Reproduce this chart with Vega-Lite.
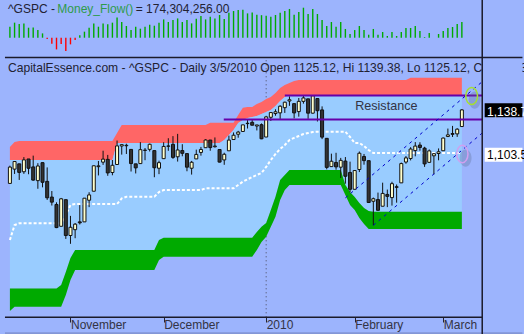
{
"$schema": "https://vega.github.io/schema/vega-lite/v6.json",
"width": 524, "height": 334,
"autosize": {"type": "none"},
"padding": 0,
"background": "#9CB4FD",
"config": {"view": {"stroke": null}, "font": "Liberation Sans"},
"datasets": {
"bars": [
{"i":0,"o":1078.68,"h":1093.17,"l":1078.68,"c":1092.02,"mf":122,"rt":1108.4,"rb":1097.8,"gt":993,"gb":974.5,"md":1032.5},
{"i":1,"o":1090.36,"h":1096.56,"l":1086.41,"c":1096.56,"mf":167,"rt":1112.5,"rb":1097.8,"gt":993,"gb":978,"md":1044.7},
{"i":2,"o":1094.67,"h":1094.67,"l":1081.53,"c":1087.68,"mf":152,"rt":1113.3,"rb":1097.8,"gt":993,"gb":978,"md":1046.1},
{"i":3,"o":1088.22,"h":1100.17,"l":1086.48,"c":1097.91,"mf":159,"rt":1113.3,"rb":1097.8,"gt":993,"gb":978,"md":1046.1},
{"i":4,"o":1098.64,"h":1098.64,"l":1086.16,"c":1091.06,"mf":111,"rt":1113.3,"rb":1097.8,"gt":993,"gb":978,"md":1046.1},
{"i":5,"o":1092.16,"h":1101.36,"l":1080.89,"c":1081.40,"mf":114,"rt":1113.3,"rb":1097.8,"gt":993,"gb":978,"md":1046.1},
{"i":6,"o":1080.96,"h":1095.21,"l":1074.31,"c":1092.91,"mf":85,"rt":1113.3,"rb":1097.8,"gt":993,"gb":978,"md":1046.1},
{"i":7,"o":1095.62,"h":1095.83,"l":1075.49,"c":1079.60,"mf":48,"rt":1113.3,"rb":1097.8,"gt":993,"gb":978,"md":1046.1},
{"i":8,"o":1080.36,"h":1091.75,"l":1065.23,"c":1066.95,"mf":-14,"rt":1113.3,"rb":1097.8,"gt":993,"gb":978,"md":1046.1},
{"i":9,"o":1067.54,"h":1072.48,"l":1060.62,"c":1063.41,"mf":-67,"rt":1113.3,"rb":1097.8,"gt":993,"gb":978,"md":1046.1},
{"i":10,"o":1061.51,"h":1063.26,"l":1042.19,"c":1042.63,"mf":-130,"rt":1113.3,"rb":1097.8,"gt":993,"gb":978,"md":1046.1},
{"i":11,"o":1043.69,"h":1066.83,"l":1043.69,"c":1066.11,"mf":-70,"rt":1113.3,"rb":1097.8,"gt":995.8,"gb":978,"md":1046.1},
{"i":12,"o":1065.41,"h":1065.41,"l":1033.38,"c":1036.19,"mf":-148,"rt":1113.3,"rb":1097.8,"gt":1006.4,"gb":987.6,"md":1052.9},
{"i":13,"o":1036.18,"h":1052.18,"l":1029.38,"c":1042.88,"mf":-74,"rt":1113.3,"rb":1097.8,"gt":1017.8,"gb":999.8,"md":1061.1},
{"i":14,"o":1040.92,"h":1046.36,"l":1033.94,"c":1045.41,"mf":-26,"rt":1113.3,"rb":1097.8,"gt":1024.3,"gb":1008,"md":1061.9},
{"i":15,"o":1047.30,"h":1061.00,"l":1045.15,"c":1046.50,"mf":26,"rt":1113.3,"rb":1097.8,"gt":1024.3,"gb":1008,"md":1061.9},
{"i":16,"o":1047.30,"h":1066.65,"l":1047.30,"c":1066.63,"mf":67,"rt":1113.3,"rb":1097.8,"gt":1024.3,"gb":1008,"md":1061.9},
{"i":17,"o":1064.95,"h":1071.48,"l":1059.32,"c":1069.30,"mf":111,"rt":1113.3,"rb":1097.8,"gt":1024.3,"gb":1008,"md":1061.9},
{"i":18,"o":1072.31,"h":1093.19,"l":1072.31,"c":1093.08,"mf":159,"rt":1113.3,"rb":1097.8,"gt":1024.3,"gb":1008,"md":1061.9},
{"i":19,"o":1092.36,"h":1097.00,"l":1085.20,"c":1093.01,"mf":122,"rt":1113.3,"rb":1097.8,"gt":1024.3,"gb":1008,"md":1061.9},
{"i":20,"o":1096.04,"h":1105.37,"l":1093.81,"c":1098.51,"mf":159,"rt":1113.3,"rb":1097.8,"gt":1024.3,"gb":1008,"md":1061.9},
{"i":21,"o":1098.31,"h":1101.97,"l":1084.90,"c":1087.24,"mf":148,"rt":1113.3,"rb":1097.8,"gt":1024.3,"gb":1008,"md":1061.9},
{"i":22,"o":1087.59,"h":1097.79,"l":1085.33,"c":1093.48,"mf":167,"rt":1113.3,"rb":1097.8,"gt":1024.3,"gb":1008,"md":1061.9},
{"i":23,"o":1094.13,"h":1113.69,"l":1094.13,"c":1109.30,"mf":225,"rt":1119.8,"rb":1111.7,"gt":1024.3,"gb":1008,"md":1061.9},
{"i":24,"o":1109.22,"h":1110.52,"l":1102.19,"c":1110.32,"mf":174,"rt":1126.4,"rb":1111.7,"gt":1024.3,"gb":1008,"md":1066.5},
{"i":25,"o":1109.44,"h":1111.10,"l":1102.70,"c":1109.80,"mf":130,"rt":1126.4,"rb":1111.7,"gt":1024.3,"gb":1008,"md":1067.8},
{"i":26,"o":1106.44,"h":1106.44,"l":1088.40,"c":1094.90,"mf":85,"rt":1126.4,"rb":1111.7,"gt":1024.3,"gb":1008,"md":1067.8},
{"i":27,"o":1094.66,"h":1094.66,"l":1086.81,"c":1091.38,"mf":122,"rt":1126.4,"rb":1111.7,"gt":1024.3,"gb":1008,"md":1067.8},
{"i":28,"o":1094.86,"h":1112.38,"l":1094.86,"c":1106.24,"mf":100,"rt":1126.4,"rb":1111.7,"gt":1024.3,"gb":1008,"md":1067.8},
{"i":29,"o":1105.83,"h":1107.56,"l":1097.63,"c":1105.65,"mf":122,"rt":1126.4,"rb":1111.7,"gt":1024.3,"gb":1008,"md":1067.8},
{"i":30,"o":1106.49,"h":1111.18,"l":1104.75,"c":1110.63,"mf":144,"rt":1126.4,"rb":1111.7,"gt":1024.3,"gb":1008,"md":1067.8},
{"i":31,"o":1105.47,"h":1105.47,"l":1083.74,"c":1091.49,"mf":133,"rt":1126.4,"rb":1111.7,"gt":1024.3,"gb":1008,"md":1067.8},
{"i":32,"o":1091.07,"h":1097.24,"l":1086.25,"c":1095.63,"mf":167,"rt":1126.4,"rb":1111.7,"gt":1032.5,"gb":1016.1,"md":1071.7},
{"i":33,"o":1098.89,"h":1112.28,"l":1098.89,"c":1108.86,"mf":203,"rt":1126.4,"rb":1111.7,"gt":1034.4,"gb":1018.9,"md":1073.3},
{"i":34,"o":1109.03,"h":1115.58,"l":1105.29,"c":1109.24,"mf":174,"rt":1126.4,"rb":1111.7,"gt":1034.4,"gb":1018.9,"md":1073.3},
{"i":35,"o":1110.59,"h":1117.28,"l":1098.74,"c":1099.92,"mf":196,"rt":1126.4,"rb":1111.7,"gt":1034.4,"gb":1018.9,"md":1073.3},
{"i":36,"o":1100.43,"h":1119.13,"l":1096.52,"c":1105.98,"mf":214,"rt":1126.4,"rb":1111.7,"gt":1034.4,"gb":1018.9,"md":1073.3},
{"i":37,"o":1105.52,"h":1110.72,"l":1100.83,"c":1103.25,"mf":174,"rt":1126.4,"rb":1111.7,"gt":1034.4,"gb":1018.9,"md":1073.3},
{"i":38,"o":1103.04,"h":1103.04,"l":1088.61,"c":1091.94,"mf":196,"rt":1126.4,"rb":1111.7,"gt":1034.4,"gb":1018.9,"md":1073.3},
{"i":39,"o":1091.07,"h":1097.04,"l":1085.89,"c":1095.95,"mf":159,"rt":1126.4,"rb":1111.7,"gt":1034.4,"gb":1018.9,"md":1073.3},
{"i":40,"o":1098.69,"h":1106.25,"l":1098.69,"c":1102.35,"mf":211,"rt":1126.4,"rb":1111.7,"gt":1034.4,"gb":1018.9,"md":1073.3},
{"i":41,"o":1103.96,"h":1108.50,"l":1101.34,"c":1106.41,"mf":241,"rt":1126.4,"rb":1111.7,"gt":1034.4,"gb":1018.9,"md":1073.3},
{"i":42,"o":1107.84,"h":1114.76,"l":1107.84,"c":1114.11,"mf":203,"rt":1126.4,"rb":1111.7,"gt":1034.4,"gb":1018.9,"md":1074.7},
{"i":43,"o":1114.11,"h":1114.11,"l":1105.35,"c":1107.93,"mf":233,"rt":1128.2,"rb":1111.7,"gt":1034.4,"gb":1018.9,"md":1074.7},
{"i":44,"o":1108.61,"h":1116.21,"l":1107.96,"c":1109.18,"mf":214,"rt":1128.2,"rb":1111.7,"gt":1034.4,"gb":1018.9,"md":1074.7},
{"i":45,"o":1106.36,"h":1106.36,"l":1095.88,"c":1096.08,"mf":252,"rt":1128.2,"rb":1111.7,"gt":1034.4,"gb":1018.9,"md":1074.7},
{"i":46,"o":1097.86,"h":1103.74,"l":1093.88,"c":1102.47,"mf":208,"rt":1128.2,"rb":1114.1,"gt":1034.4,"gb":1018.9,"md":1074.7},
{"i":47,"o":1105.31,"h":1117.68,"l":1105.31,"c":1114.05,"mf":278,"rt":1128.2,"rb":1118.2,"gt":1034.4,"gb":1018.9,"md":1074.7},
{"i":48,"o":1114.51,"h":1120.27,"l":1114.51,"c":1118.02,"mf":296,"rt":1128.2,"rb":1122.3,"gt":1034.4,"gb":1018.9,"md":1074.7},
{"i":49,"o":1118.84,"h":1121.58,"l":1116.00,"c":1120.59,"mf":307,"rt":1134.5,"rb":1128.0,"gt":1034.4,"gb":1018.9,"md":1077.4},
{"i":50,"o":1121.08,"h":1126.48,"l":1121.08,"c":1126.48,"mf":311,"rt":1140.5,"rb":1130.4,"gt":1034.4,"gb":1018.9,"md":1080.1},
{"i":51,"o":1127.53,"h":1130.38,"l":1123.51,"c":1127.78,"mf":270,"rt":1141.1,"rb":1132.1,"gt":1034.4,"gb":1018.9,"md":1082.0},
{"i":52,"o":1128.55,"h":1130.38,"l":1126.08,"c":1126.20,"mf":281,"rt":1141.1,"rb":1132.9,"gt":1034.4,"gb":1018.9,"md":1083.9},
{"i":53,"o":1125.53,"h":1126.42,"l":1121.94,"c":1126.42,"mf":255,"rt":1143.5,"rb":1133.7,"gt":1039.0,"gb":1024.3,"md":1085.6},
{"i":54,"o":1126.60,"h":1127.64,"l":1114.81,"c":1115.10,"mf":250,"rt":1145.1,"rb":1135.4,"gt":1043.3,"gb":1030.9,"md":1087.2},
{"i":55,"o":1116.56,"h":1133.87,"l":1116.56,"c":1132.99,"mf":244,"rt":1147.6,"rb":1137.0,"gt":1046.4,"gb":1035.2,"md":1092.1},
{"i":56,"o":1132.66,"h":1136.63,"l":1129.66,"c":1136.52,"mf":233,"rt":1149.2,"rb":1138.6,"gt":1057.0,"gb":1043.3,"md":1097.8},
{"i":57,"o":1135.71,"h":1139.19,"l":1133.95,"c":1137.14,"mf":252,"rt":1152.5,"rb":1141.9,"gt":1067.8,"gb":1051.5,"md":1102.7},
{"i":58,"o":1136.27,"h":1142.46,"l":1131.32,"c":1141.69,"mf":278,"rt":1156.6,"rb":1146.0,"gt":1081.5,"gb":1065.1,"md":1106.8},
{"i":59,"o":1140.52,"h":1145.39,"l":1136.22,"c":1144.98,"mf":296,"rt":1159.0,"rb":1149.2,"gt":1085.6,"gb":1073.3,"md":1110.0},
{"i":60,"o":1145.96,"h":1149.74,"l":1142.02,"c":1146.98,"mf":319,"rt":1160.7,"rb":1150.45,"gt":1089.6,"gb":1077.4,"md":1114.1},
{"i":61,"o":1143.81,"h":1143.81,"l":1131.77,"c":1136.22,"mf":255,"rt":1162.3,"rb":1150.45,"gt":1089.6,"gb":1077.4,"md":1115.8},
{"i":62,"o":1137.31,"h":1148.40,"l":1133.18,"c":1145.68,"mf":285,"rt":1163.1,"rb":1150.45,"gt":1089.6,"gb":1077.4,"md":1117.4},
{"i":63,"o":1145.68,"h":1150.41,"l":1143.80,"c":1148.46,"mf":333,"rt":1163.1,"rb":1150.45,"gt":1089.6,"gb":1077.4,"md":1119.0},
{"i":64,"o":1147.72,"h":1147.77,"l":1131.39,"c":1136.03,"mf":263,"rt":1163.1,"rb":1150.45,"gt":1089.6,"gb":1077.4,"md":1119.8},
{"i":65,"o":1136.03,"h":1150.45,"l":1135.77,"c":1150.23,"mf":319,"rt":1163.1,"rb":1150.45,"gt":1089.6,"gb":1077.4,"md":1120.6},
{"i":66,"o":1147.95,"h":1147.95,"l":1129.25,"c":1138.04,"mf":263,"rt":1163.1,"rb":1150.45,"gt":1089.6,"gb":1077.4,"md":1120.9},
{"i":67,"o":1138.68,"h":1141.58,"l":1114.84,"c":1116.48,"mf":196,"rt":1163.1,"rb":1150.45,"gt":1089.6,"gb":1077.4,"md":1120.9},
{"i":68,"o":1115.49,"h":1115.49,"l":1090.18,"c":1091.76,"mf":130,"rt":1163.1,"rb":1150.45,"gt":1089.6,"gb":1077.4,"md":1120.9},
{"i":69,"o":1092.40,"h":1102.97,"l":1092.40,"c":1096.78,"mf":174,"rt":1163.1,"rb":1150.45,"gt":1089.6,"gb":1077.4,"md":1120.9},
{"i":70,"o":1095.80,"h":1103.69,"l":1089.86,"c":1092.17,"mf":122,"rt":1163.1,"rb":1150.45,"gt":1089.6,"gb":1077.4,"md":1120.9},
{"i":71,"o":1091.94,"h":1099.51,"l":1083.11,"c":1097.50,"mf":174,"rt":1163.1,"rb":1150.45,"gt":1089.6,"gb":1077.4,"md":1120.9},
{"i":72,"o":1096.93,"h":1100.22,"l":1078.46,"c":1084.53,"mf":97,"rt":1163.1,"rb":1150.45,"gt":1077.4,"gb":1069.2,"md":1120.9},
{"i":73,"o":1087.61,"h":1096.45,"l":1071.59,"c":1073.87,"mf":41,"rt":1163.1,"rb":1150.45,"gt":1071.7,"gb":1061.1,"md":1116.6},
{"i":74,"o":1073.89,"h":1089.38,"l":1073.89,"c":1089.19,"mf":85,"rt":1163.1,"rb":1150.45,"gt":1067.6,"gb":1057.0,"md":1111.7},
{"i":75,"o":1090.05,"h":1104.73,"l":1087.96,"c":1103.32,"mf":130,"rt":1163.1,"rb":1150.45,"gt":1062.7,"gb":1050.4,"md":1111.7},
{"i":76,"o":1100.67,"h":1102.72,"l":1093.97,"c":1097.28,"mf":85,"rt":1163.1,"rb":1150.45,"gt":1058.6,"gb":1045.6,"md":1109.2},
{"i":77,"o":1097.25,"h":1097.25,"l":1062.78,"c":1063.11,"mf":33,"rt":1163.1,"rb":1150.45,"gt":1056.2,"gb":1041.4,"md":1105.9},
{"i":78,"o":1064.12,"h":1067.13,"l":1044.50,"c":1066.19,"mf":97,"rt":1163.1,"rb":1150.45,"gt":1055.6,"gb":1041.4,"md":1103.5},
{"i":79,"o":1065.51,"h":1071.20,"l":1056.51,"c":1056.74,"mf":33,"rt":1163.1,"rb":1150.45,"gt":1055.6,"gb":1041.4,"md":1103.5},
{"i":80,"o":1060.06,"h":1079.28,"l":1060.06,"c":1070.52,"mf":63,"rt":1163.1,"rb":1150.45,"gt":1055.6,"gb":1041.4,"md":1103.5},
{"i":81,"o":1069.68,"h":1073.67,"l":1059.34,"c":1068.13,"mf":19,"rt":1163.1,"rb":1150.45,"gt":1055.6,"gb":1041.4,"md":1103.5},
{"i":82,"o":1067.10,"h":1080.04,"l":1060.59,"c":1078.47,"mf":63,"rt":1163.1,"rb":1150.45,"gt":1055.6,"gb":1041.4,"md":1103.5},
{"i":83,"o":1075.95,"h":1077.81,"l":1062.97,"c":1075.51,"mf":19,"rt":1163.1,"rb":1150.45,"gt":1055.6,"gb":1041.4,"md":1103.5},
{"i":84,"o":1079.13,"h":1095.67,"l":1079.13,"c":1094.87,"mf":63,"rt":1163.1,"rb":1150.45,"gt":1055.6,"gb":1041.4,"md":1103.5},
{"i":85,"o":1096.14,"h":1101.03,"l":1094.72,"c":1099.51,"mf":108,"rt":1163.1,"rb":1150.45,"gt":1055.6,"gb":1041.4,"md":1103.5},
{"i":86,"o":1099.03,"h":1108.24,"l":1097.48,"c":1106.75,"mf":108,"rt":1165.0,"rb":1150.45,"gt":1055.6,"gb":1041.4,"md":1103.5},
{"i":87,"o":1105.49,"h":1112.42,"l":1100.80,"c":1109.17,"mf":130,"rt":1165.0,"rb":1150.45,"gt":1055.6,"gb":1041.4,"md":1103.5},
{"i":88,"o":1110.00,"h":1112.29,"l":1105.38,"c":1108.01,"mf":74,"rt":1165.0,"rb":1150.45,"gt":1055.6,"gb":1041.4,"md":1103.5},
{"i":89,"o":1107.49,"h":1108.58,"l":1092.18,"c":1094.60,"mf":8,"rt":1165.0,"rb":1150.45,"gt":1055.6,"gb":1041.4,"md":1103.5},
{"i":90,"o":1095.89,"h":1106.42,"l":1095.50,"c":1105.24,"mf":52,"rt":1165.0,"rb":1150.45,"gt":1055.6,"gb":1041.4,"md":1103.5},
{"i":91,"o":1101.24,"h":1103.50,"l":1086.02,"c":1102.94,"mf":0,"rt":1165.0,"rb":1150.45,"gt":1055.6,"gb":1041.4,"md":1103.5},
{"i":92,"o":1103.10,"h":1107.24,"l":1097.56,"c":1104.49,"mf":41,"rt":1165.0,"rb":1150.45,"gt":1055.6,"gb":1041.4,"md":1103.5},
{"i":93,"o":1105.36,"h":1116.11,"l":1105.36,"c":1115.71,"mf":74,"rt":1165.0,"rb":1150.45,"gt":1055.6,"gb":1041.4,"md":1103.5},
{"i":94,"o":1117.01,"h":1123.46,"l":1116.51,"c":1118.31,"mf":108,"rt":1165.0,"rb":1150.45,"gt":1055.6,"gb":1041.4,"md":1103.5},
{"i":95,"o":1119.36,"h":1125.64,"l":1116.58,"c":1118.79,"mf":119,"rt":1165.0,"rb":1150.45,"gt":1055.6,"gb":1041.4,"md":1103.5},
{"i":96,"o":1119.12,"h":1123.73,"l":1116.66,"c":1122.97,"mf":152,"rt":1165.0,"rb":1150.45,"gt":1055.6,"gb":1041.4,"md":1103.5},
{"i":97,"o":1125.12,"h":1139.38,"l":1125.12,"c":1138.70,"mf":174.3,"rt":1165.0,"rb":1150.45,"gt":1055.6,"gb":1041.4,"md":1103.5}
]
},
"encoding": {
  "x": {"field": "i", "type": "quantitative",
        "scale": {"domain": [-1.0526, 109.263], "nice": false, "zero": false},
        "axis": {"values": [13, 33, 55, 74, 93],
                 "labelExpr": "datum.value == 13 ? 'November' : datum.value == 33 ? 'December' : datum.value == 55 ? '2010' : datum.value == 74 ? 'February' : 'March'",
                 "offset": -17, "domain": false, "grid": false, "tickSize": 5, "tickColor": "#222233", "tickWidth": 1,
                 "labelAlign": "left", "labelBaseline": "alphabetic", "labelPadding": 6.5, "labelDx": 3,
                 "labelFont": "Liberation Sans", "labelFontSize": 12, "labelColor": "#333344",
                 "labelOverlap": false, "labelFlush": false, "title": null}}
},
"layer": [
{"layer": [
  {"data": {"values": [{"i": 55, "p": 969.4, "p2": 1181}]},
   "mark": {"type": "rule", "color": "#4a4a5a", "strokeDash": [1, 3], "strokeWidth": 1},
   "encoding": {"y": {"field": "p", "type": "quantitative", "scale": {"domain": [955.76, 1228.41], "nice": false, "zero": false}, "axis": null}, "y2": {"field": "p2"}}},
  {"data": {"name": "bars"}, "mark": {"type": "area", "color": "#FF6666"},
   "encoding": {"y": {"field": "rt", "type": "quantitative", "scale": {"domain": [955.76, 1228.41], "nice": false, "zero": false}, "axis": null}, "y2": {"field": "rb"}}},
  {"data": {"name": "bars"}, "mark": {"type": "area", "color": "#99CCFF"},
   "encoding": {"y": {"field": "rb", "type": "quantitative", "scale": {"domain": [955.76, 1228.41], "nice": false, "zero": false}, "axis": null}, "y2": {"field": "gt"}}},
  {"data": {"name": "bars"}, "mark": {"type": "area", "color": "#00AA00"},
   "encoding": {"y": {"field": "gt", "type": "quantitative", "scale": {"domain": [955.76, 1228.41], "nice": false, "zero": false}, "axis": null}, "y2": {"field": "gb"}}},
  {"data": {"name": "bars"}, "mark": {"type": "line", "color": "#FFFFFF", "strokeWidth": 2, "strokeDash": [3, 2]},
   "encoding": {"y": {"field": "md", "type": "quantitative", "scale": {"domain": [955.76, 1228.41], "nice": false, "zero": false}, "axis": null}}},
  {"data": {"name": "bars"}, "mark": {"type": "rule", "color": "#111111", "strokeWidth": 1},
   "encoding": {"y": {"field": "l", "type": "quantitative", "scale": {"domain": [955.76, 1228.41], "nice": false, "zero": false}, "axis": null}, "y2": {"field": "h"}}},
  {"data": {"name": "bars"}, "mark": {"type": "bar", "size": 3, "stroke": "#111111", "strokeWidth": 1},
   "encoding": {"y": {"field": "o", "type": "quantitative", "scale": {"domain": [955.76, 1228.41], "nice": false, "zero": false}, "axis": null}, "y2": {"field": "c"},
                "color": {"condition": {"test": "datum.c >= datum.o", "value": "#FFFFCC"}, "value": "#333333"}}},
  {"data": {"values": [{"i": 45.9, "i2": 101.37, "p": 1130.8}, {"i": 59, "i2": 101.37, "p": 1150.45}]},
   "mark": {"type": "rule", "color": "#6600AA", "strokeWidth": 2},
   "encoding": {"x2": {"field": "i2"}, "y": {"field": "p", "type": "quantitative", "scale": {"domain": [955.76, 1228.41], "nice": false, "zero": false}, "axis": null}}},
  {"data": {"values": [{"line": "upper", "i": 72, "p": 1066.9}, {"line": "upper", "i": 101.3, "p": 1161.5}, {"line": "lower", "i": 78, "p": 1044.5}, {"line": "lower", "i": 101.3, "p": 1119.6}]},
   "mark": {"type": "line", "color": "#0000CC", "strokeWidth": 1, "strokeDash": [3, 4]},
   "encoding": {"detail": {"field": "line"}, "y": {"field": "p", "type": "quantitative", "scale": {"domain": [955.76, 1228.41], "nice": false, "zero": false}, "axis": null}}},
  {"data": {"values": [{"i": 99.75, "p": 1146.7}, {"i": 97.8, "p": 1099.4}]},
   "mark": {"type": "point", "shape": "M-0.69,0A0.69,1,0,1,1,0.69,0A0.69,1,0,1,1,-0.69,0Z", "size": 300, "filled": true, "color": "#5a6a90", "opacity": 0.3},
   "encoding": {"y": {"field": "p", "type": "quantitative", "scale": {"domain": [955.76, 1228.41], "nice": false, "zero": false}, "axis": null}}},
  {"data": {"values": [{"i": 99.1, "p": 1150.0}]},
   "mark": {"type": "point", "shape": "M-0.69,0A0.69,1,0,1,1,0.69,0A0.69,1,0,1,1,-0.69,0Z", "size": 289, "filled": false, "color": "#A6E030", "strokeWidth": 1.5, "opacity": 1},
   "encoding": {"y": {"field": "p", "type": "quantitative", "scale": {"domain": [955.76, 1228.41], "nice": false, "zero": false}, "axis": null}}},
  {"data": {"values": [{"i": 97.1, "p": 1102.7}]},
   "mark": {"type": "point", "shape": "M-0.65,0A0.65,1,0,1,1,0.65,0A0.65,1,0,1,1,-0.65,0Z", "size": 300, "filled": false, "color": "#D0A0F0", "strokeWidth": 1.5, "opacity": 1},
   "encoding": {"y": {"field": "p", "type": "quantitative", "scale": {"domain": [955.76, 1228.41], "nice": false, "zero": false}, "axis": null}}},
  {"data": {"values": [{"i": -0.42, "p": 1169.4, "t": "CapitalEssence.com - ^GSPC - Daily 3/5/2010 Open 1125.12, Hi 1139.38, Lo 1125.12, Close 1138.70"}]},
   "mark": {"type": "text", "align": "left", "baseline": "alphabetic", "font": "Liberation Sans", "fontSize": 12.1, "color": "#222233"},
   "encoding": {"text": {"field": "t"}, "y": {"field": "p", "type": "quantitative", "scale": {"domain": [955.76, 1228.41], "nice": false, "zero": false}, "axis": null}}},
  {"data": {"values": [{"i": 74.1, "p": 1138.6, "t": "Resistance"}]},
   "mark": {"type": "text", "align": "left", "baseline": "alphabetic", "font": "Liberation Sans", "fontSize": 12.6, "color": "#333344"},
   "encoding": {"text": {"field": "t"}, "y": {"field": "p", "type": "quantitative", "scale": {"domain": [955.76, 1228.41], "nice": false, "zero": false}, "axis": null}}},
  {"data": {"values": [{"i": 101.37, "i2": 110, "p": 955.76, "p2": 1228.41}]},
   "mark": {"type": "rect", "color": "#9CB4FD"},
   "encoding": {"x2": {"field": "i2"}, "y": {"field": "p", "type": "quantitative", "scale": {"domain": [955.76, 1228.41], "nice": false, "zero": false}, "axis": null}, "y2": {"field": "p2"}}},
  {"data": {"values": [{"i": -1.06, "i2": 110, "p": 1181.5}, {"i": -1.06, "i2": 101.37, "p": 969.4}]},
   "mark": {"type": "rule", "color": "#1a1a2a", "strokeWidth": 1.5},
   "encoding": {"x2": {"field": "i2"}, "y": {"field": "p", "type": "quantitative", "scale": {"domain": [955.76, 1228.41], "nice": false, "zero": false}, "axis": null}}},
  {"data": {"values": [{"i": -1.06, "i2": 110, "p": 956.4}]},
   "mark": {"type": "rule", "color": "#8396D6", "strokeWidth": 2},
   "encoding": {"x2": {"field": "i2"}, "y": {"field": "p", "type": "quantitative", "scale": {"domain": [955.76, 1228.41], "nice": false, "zero": false}, "axis": null}}},
  {"data": {"values": [{"i": 101.37, "p": 955.76, "p2": 1228.41}]},
   "mark": {"type": "rule", "color": "#1a1a2a", "strokeWidth": 1.5},
   "encoding": {"y": {"field": "p", "type": "quantitative", "scale": {"domain": [955.76, 1228.41], "nice": false, "zero": false}, "axis": null}, "y2": {"field": "p2"}}},
  {"data": {"values": [{"i": 101.9, "i2": 110, "p": 1132.7, "p2": 1144.1}]},
   "mark": {"type": "rect", "color": "#000000"},
   "encoding": {"x2": {"field": "i2"}, "y": {"field": "p", "type": "quantitative", "scale": {"domain": [955.76, 1228.41], "nice": false, "zero": false}, "axis": null}, "y2": {"field": "p2"}}},
  {"data": {"values": [{"i": 101.9, "i2": 110, "p": 1096.4, "p2": 1107.8}]},
   "mark": {"type": "rect", "color": "#FFFFFF"},
   "encoding": {"x2": {"field": "i2"}, "y": {"field": "p", "type": "quantitative", "scale": {"domain": [955.76, 1228.41], "nice": false, "zero": false}, "axis": null}, "y2": {"field": "p2"}}},
  {"data": {"values": [{"i": 102.4, "p": 1134.0, "t": "1,138.70"}]},
   "mark": {"type": "text", "align": "left", "baseline": "alphabetic", "font": "Liberation Sans", "fontSize": 12, "color": "#FFFFFF"},
   "encoding": {"text": {"field": "t"}, "y": {"field": "p", "type": "quantitative", "scale": {"domain": [955.76, 1228.41], "nice": false, "zero": false}, "axis": null}}},
  {"data": {"values": [{"i": 102.4, "p": 1098.6, "t": "1,103.50"}]},
   "mark": {"type": "text", "align": "left", "baseline": "alphabetic", "font": "Liberation Sans", "fontSize": 12, "color": "#000000"},
   "encoding": {"text": {"field": "t"}, "y": {"field": "p", "type": "quantitative", "scale": {"domain": [955.76, 1228.41], "nice": false, "zero": false}, "axis": null}}}
]},
{"layer": [
  {"data": {"name": "bars"}, "mark": {"type": "rule", "strokeWidth": 1.4},
   "encoding": {"y": {"field": "mf", "type": "quantitative", "scale": {"domain": [-3289, 418.5], "nice": false, "zero": false}, "axis": null},
                "y2": {"datum": 0},
                "color": {"condition": {"test": "datum.mf < 0", "value": "#FF0000"}, "value": "#00AA00"}}},
  {"data": {"values": [{"i": -0.42, "m": 277.5, "t": "^GSPC - "}]},
   "mark": {"type": "text", "align": "left", "baseline": "alphabetic", "font": "Liberation Sans", "fontSize": 12, "color": "#222233"},
   "encoding": {"text": {"field": "t"}, "y": {"field": "m", "type": "quantitative", "scale": {"domain": [-3289, 418.5], "nice": false, "zero": false}, "axis": null}}},
  {"data": {"values": [{"i": 10.17, "m": 277.5, "t": "Money_Flow()"}]},
   "mark": {"type": "text", "align": "left", "baseline": "alphabetic", "font": "Liberation Sans", "fontSize": 12, "color": "#2E9B4B"},
   "encoding": {"text": {"field": "t"}, "y": {"field": "m", "type": "quantitative", "scale": {"domain": [-3289, 418.5], "nice": false, "zero": false}, "axis": null}}},
  {"data": {"values": [{"i": 27.0, "m": 277.5, "t": "= 174,304,256.00"}]},
   "mark": {"type": "text", "align": "left", "baseline": "alphabetic", "font": "Liberation Sans", "fontSize": 12, "color": "#222233"},
   "encoding": {"text": {"field": "t"}, "y": {"field": "m", "type": "quantitative", "scale": {"domain": [-3289, 418.5], "nice": false, "zero": false}, "axis": null}}}
]}
],
"resolve": {"scale": {"y": "independent"}}
}
